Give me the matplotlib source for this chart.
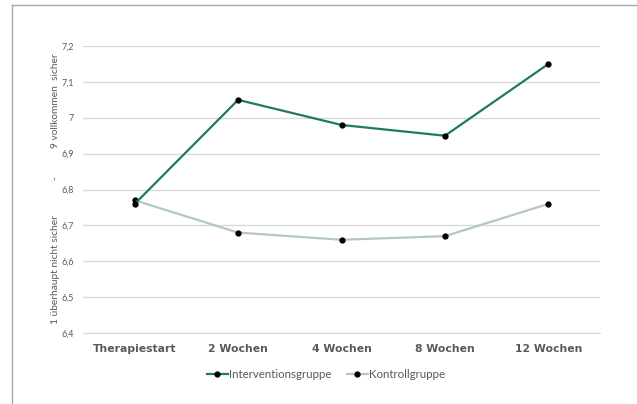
import matplotlib.pyplot as plt
from matplotlib.lines import Line2D

categories = ["Therapiestart", "2 Wochen", "4 Wochen", "8 Wochen", "12 Wochen"]
intervention = [6.76, 7.05, 6.98, 6.95, 7.15]
kontrolle = [6.77, 6.68, 6.66, 6.67, 6.76]
yticks = [6.4, 6.5, 6.6, 6.7, 6.8, 6.9, 7.0, 7.1, 7.2]
ytick_labels = ["6,4", "6,5", "6,6", "6,7", "6,8", "6,9", "7", "7,1", "7,2"]

green = "#1f7a5e"
lightgreen = "#b4c8bd"
textgray = "#595959"

fig = plt.figure(figsize=(6.37, 4.04), dpi=100)
ax = fig.add_axes([0.1303, 0.1757, 0.8117, 0.7103])

x = list(range(len(categories)))
ax.plot(x, kontrolle, color=lightgreen, lw=1.6, marker="o", ms=3.5,
        mfc="black", mec="black", label="Kontrollgruppe", zorder=3)
ax.plot(x, intervention, color=green, lw=1.6, marker="o", ms=3.5,
        mfc="black", mec="black", label="Interventionsgruppe", zorder=4)

ax.set_xlim(-0.5, len(categories) - 0.5)
ax.set_ylim(6.4, 7.2)
ax.set_yticks(yticks)
ax.set_yticklabels(ytick_labels, fontsize=6.5, color=textgray, family="Lato")
ax.set_xticks(x)
ax.set_xticklabels(categories, fontsize=7.8, fontweight="bold", color=textgray)
ax.tick_params(length=0)
ax.tick_params(axis="x", pad=8)
ax.tick_params(axis="y", pad=6.5)
ax.grid(axis="y", color="#d9d9d9", lw=1)
ax.set_axisbelow(True)
for s in ["top", "right", "left"]:
    ax.spines[s].set_visible(False)
ax.spines["bottom"].set_color("#d9d9d9")

# y-axis label pieces
ylab = dict(rotation=90, fontsize=7.3, color=textgray, ha="center", va="center",
            family="Lato")
fig.text(0.087, 0.332, "1 überhaupt nicht sicher", **ylab)
fig.text(0.087, 0.559, "-", **ylab)
fig.text(0.087, 0.752, "9 vollkommen  sicher", **ylab)

handles = [
    Line2D([], [], color=green, lw=1.6, marker="o", ms=3.5, mfc="black", mec="black"),
    Line2D([], [], color=lightgreen, lw=1.6, marker="o", ms=3.5, mfc="black", mec="black"),
]
fig.legend(handles, ["Interventionsgruppe", "Kontrollgruppe"], loc="center",
           bbox_to_anchor=(0.512, 0.072), ncol=2, frameon=False,
           prop={"family": "Lato", "size": 8.3},
           labelcolor=textgray, handlelength=1.8, handletextpad=0.15,
           columnspacing=1.3)

# frame lines (top and left)
fig.add_artist(Line2D([12 / 637, 1.0], [1 - 5 / 404, 1 - 5 / 404],
                      color="#a6a6a6", lw=1, transform=fig.transFigure))
fig.add_artist(Line2D([12 / 637, 12 / 637], [0, 1 - 5 / 404],
                      color="#a6a6a6", lw=1, transform=fig.transFigure))

fig.savefig("out.png", dpi=100)
